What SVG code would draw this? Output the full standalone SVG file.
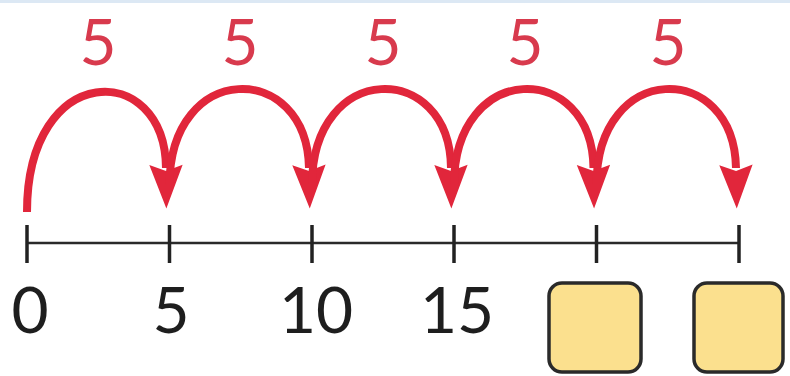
<svg xmlns="http://www.w3.org/2000/svg" width="790" height="376" viewBox="0 0 790 376">
<defs>
<style>
.jump{fill:none;stroke:#e1263b;stroke-width:8;stroke-linecap:butt}
.lbl{font-family:Lato,"Open Sans",sans-serif;font-size:64px;text-anchor:middle}
.red{fill:#d83a4d}
.num{fill:#1e1e1e}
.tick{stroke:#222;stroke-width:3.5}
.box{fill:#fbe08e;stroke:#2a2a2a;stroke-width:3.5}
</style>
<marker id="ah" markerUnits="userSpaceOnUse" markerWidth="50" markerHeight="40" viewBox="-2 -18 48 36" refX="3" refY="0" orient="auto">
<path d="M0,-16 L42,0 L0,16 L6,0 Z" fill="#e1263b"/>
</marker>
</defs>
<rect x="0" y="0" width="790" height="376" fill="#ffffff"/>
<rect x="0" y="0" width="790" height="3" fill="#dce8f4"/>
<g id="jumps">
<path class="jump" d="M27,212 C27,60 165,60 166,168" marker-end="url(#ah)"/>
<path class="jump" d="M169.5,185 C169.5,60 307,60 309,168" marker-end="url(#ah)"/>
<path class="jump" d="M312,185 C312,60 450,60 451,168" marker-end="url(#ah)"/>
<path class="jump" d="M454,185 C454,60 592,60 593.5,168" marker-end="url(#ah)"/>
<path class="jump" d="M596.5,185 C596.5,60 734,60 736,168" marker-end="url(#ah)"/>
</g>
<g id="jump-labels">
<text class="lbl red" x="98" y="65">5</text>
<text class="lbl red" x="240" y="65">5</text>
<text class="lbl red" x="383" y="65">5</text>
<text class="lbl red" x="525" y="65">5</text>
<text class="lbl red" x="668" y="65">5</text>
</g>
<g id="number-line">
<line x1="27" y1="243" x2="739" y2="243" stroke="#2a2a2a" stroke-width="2.5"/>
<line class="tick" x1="27" y1="225" x2="27" y2="263"/>
<line class="tick" x1="169.5" y1="225" x2="169.5" y2="263"/>
<line class="tick" x1="312" y1="225" x2="312" y2="263"/>
<line class="tick" x1="454" y1="225" x2="454" y2="263"/>
<line class="tick" x1="596.5" y1="225" x2="596.5" y2="263"/>
<line class="tick" x1="739" y1="225" x2="739" y2="263"/>
</g>
<g id="tick-labels">
<text class="lbl num" x="30" y="333">0</text>
<text class="lbl num" x="171" y="333">5</text>
<text class="lbl num" x="316" y="333">10</text>
<text class="lbl num" x="457" y="333">15</text>
</g>
<g id="box-20"><rect class="box" x="549" y="283" width="92" height="89" rx="13"/></g>
<g id="box-25"><rect class="box" x="694" y="283" width="89" height="89" rx="13"/></g>
</svg>
